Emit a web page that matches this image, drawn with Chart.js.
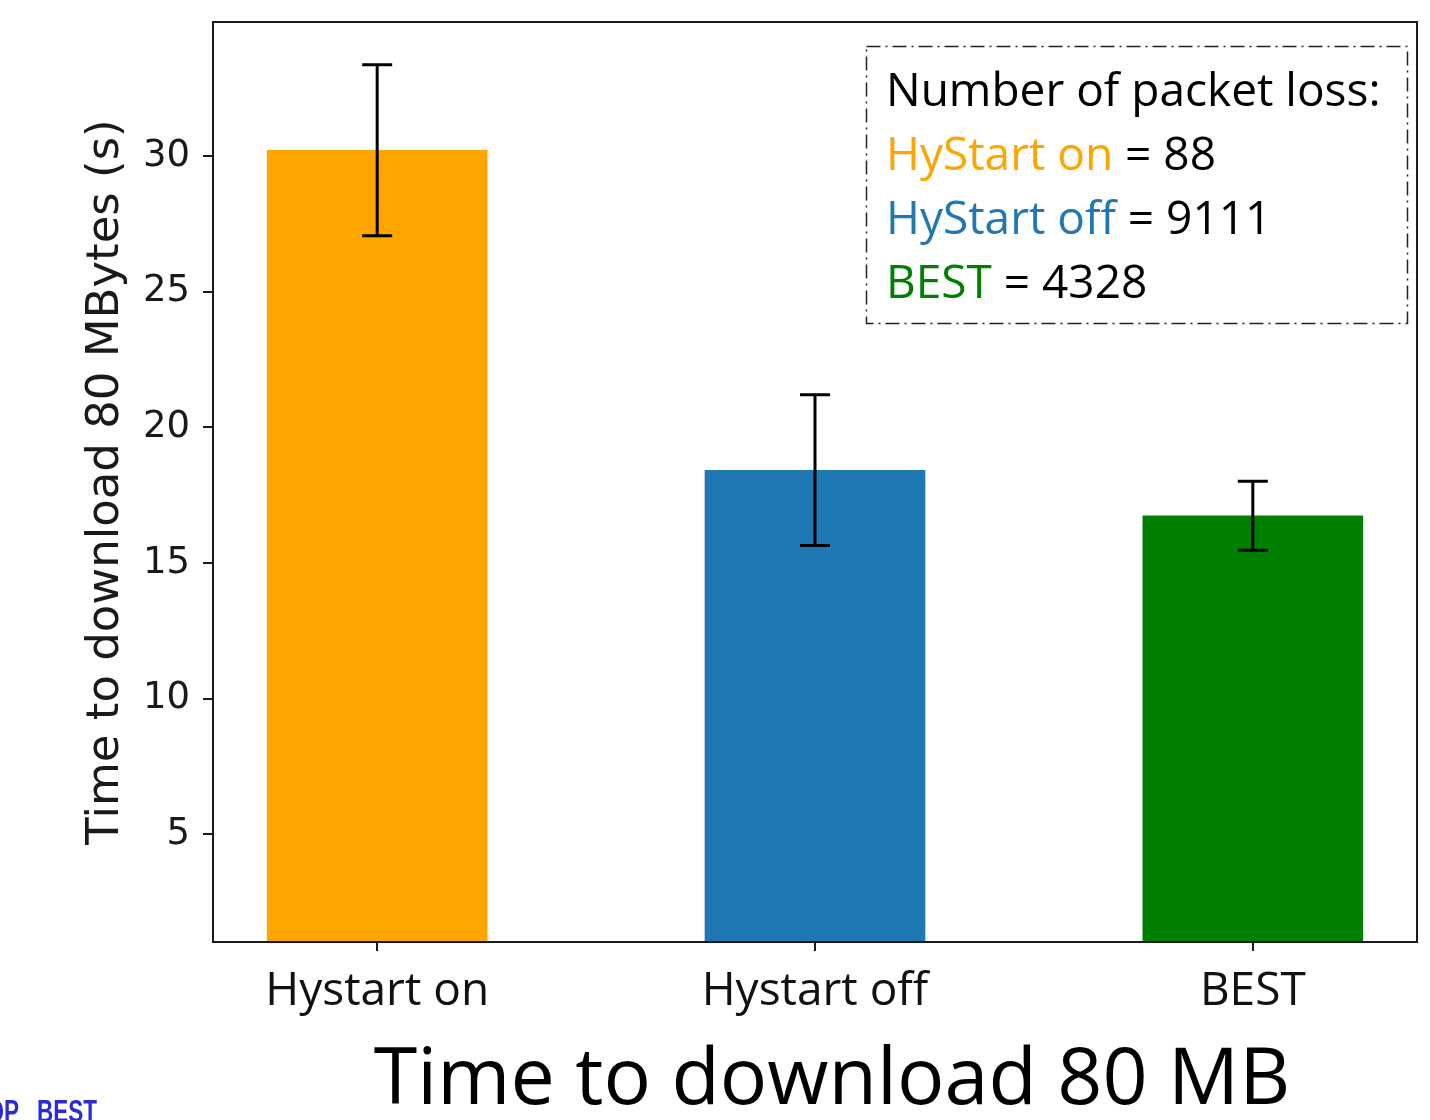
<!DOCTYPE html>
<html>
<head>
<meta charset="utf-8">
<script src="https://cdn.jsdelivr.net/npm/chart.js@4.4.1/dist/chart.umd.min.js"></script>
<style>
  html, body { margin: 0; padding: 0; background: #fff; }
  #wrap { position: relative; width: 1430px; height: 1120px; overflow: hidden; }
  canvas { display: block; }
</style>
</head>
<body>
<div id="wrap"><canvas id="c" width="1430" height="1120"></canvas></div>
<script>
// Download time per configuration (seconds) and its error bar half-width
const categories = ['Hystart on', 'Hystart off', 'BEST'];
const positions = [0, 1, 2];
const meanTime = [30.22, 18.42, 16.74];
const errTime = [3.15, 2.78, 1.27];
const barColors = ['#ffa500', '#1f77b4', '#008000'];
const yTicks = [5, 10, 15, 20, 25, 30];

// Packet-loss counts shown in the note box
const lossLabels = ['HyStart on', 'HyStart off', 'BEST'];
const lossCounts = [88, 9111, 4328];
const noteTitle = 'Number of packet loss:';
const chartTitle = 'Time to download 80 MB';
const yTitle = 'Time to download 80 MBytes (s)';

const slideFont = '"Open Sans", Lato, sans-serif';

// Frame on all four sides of the plot area
const framePlugin = {
  id: 'frame',
  afterDatasetsDraw(chart) {
    const { ctx, chartArea: a } = chart;
    ctx.save();
    ctx.strokeStyle = '#1a1a1a';
    ctx.lineWidth = 2;
    ctx.strokeRect(a.left, a.top, a.right - a.left, a.bottom - a.top);
    ctx.restore();
  }
};

// Symmetric error bars with caps, placed through the chart scales
const errorBarPlugin = {
  id: 'errorBars',
  afterDatasetsDraw(chart) {
    const { ctx, scales: { x, y } } = chart;
    ctx.save();
    ctx.strokeStyle = '#000';
    ctx.lineWidth = 3;
    meanTime.forEach((m, i) => {
      const px = x.getPixelForValue(positions[i]);
      const top = y.getPixelForValue(m + errTime[i]);
      const bot = y.getPixelForValue(m - errTime[i]);
      const cap = 15;
      ctx.beginPath();
      ctx.moveTo(px, top); ctx.lineTo(px, bot);
      ctx.moveTo(px - cap, top); ctx.lineTo(px + cap, top);
      ctx.moveTo(px - cap, bot); ctx.lineTo(px + cap, bot);
      ctx.stroke();
    });
    ctx.restore();
  }
};

// Note box with the loss counts, the caption below the axes, and the footer text
const annotationsPlugin = {
  id: 'annotations',
  afterDraw(chart) {
    const { ctx } = chart;
    ctx.save();
    // dash-dot box
    ctx.strokeStyle = '#222';
    ctx.lineWidth = 1.5;
    ctx.setLineDash([14, 5, 2, 5]);
    ctx.strokeRect(866.5, 46.5, 541, 277);
    ctx.setLineDash([]);

    ctx.font = '46px ' + slideFont;
    ctx.textBaseline = 'alphabetic';
    ctx.textAlign = 'left';
    ctx.fillStyle = '#000';
    ctx.fillText(noteTitle, 886, 106);
    const lineY = [170, 234, 298];
    lossLabels.forEach((lab, i) => {
      ctx.fillStyle = barColors[i];
      ctx.fillText(lab, 886, lineY[i]);
      const w = ctx.measureText(lab).width;
      ctx.fillStyle = '#000';
      ctx.fillText(' = ' + lossCounts[i], 886 + w, lineY[i]);
    });

    // caption under the chart
    ctx.font = '79px ' + slideFont;
    ctx.textAlign = 'center';
    ctx.fillStyle = '#000';
    ctx.fillText(chartTitle, 832, 1104);

    // footer fragment at the lower left, condensed horizontally
    ctx.font = 'bold 31px "Liberation Sans", sans-serif';
    ctx.fillStyle = '#2a2ad8';
    const sx = 60 / ctx.measureText('BEST').width;
    ctx.translate(0, 1122);
    ctx.scale(sx, 1);
    ctx.textAlign = 'right';
    ctx.fillText('OP', 19 / sx, 0);
    ctx.textAlign = 'left';
    ctx.fillText('BEST', 37 / sx, 0);
    ctx.restore();
  }
};

new Chart(document.getElementById('c'), {
  type: 'bar',
  data: {
    datasets: [{
      data: positions.map((p, i) => ({ x: p, y: meanTime[i] })),
      backgroundColor: barColors,
      borderWidth: 0,
      barThickness: 220
    }]
  },
  options: {
    responsive: false,
    animation: false,
    devicePixelRatio: 1,
    layout: { padding: { left: 0, right: 13, top: 22, bottom: 0 } },
    plugins: { legend: { display: false }, tooltip: { enabled: false } },
    scales: {
      x: {
        type: 'linear',
        offset: false,
        min: -0.375,
        max: 2.375,
        afterBuildTicks(scale) { scale.ticks = positions.map(v => ({ value: v })); },
        afterFit(scale) { scale.height = 178; scale.paddingLeft = 0; scale.paddingRight = 0; },
        grid: { display: true, offset: false, drawOnChartArea: false, drawTicks: true, tickLength: 9, color: '#1a1a1a', lineWidth: 2 },
        border: { display: false },
        ticks: {
          color: '#111',
          font: { family: slideFont, size: 46 },
          padding: 13,
          maxRotation: 0,
          autoSkip: false,
          callback: (v) => categories[positions.indexOf(v)]
        }
      },
      y: {
        min: 1.02,
        max: 34.95,
        afterBuildTicks(scale) { scale.ticks = yTicks.map(v => ({ value: v })); },
        afterFit(scale) { scale.width = 213; scale.paddingTop = 0; scale.paddingBottom = 0; },
        grid: { display: true, drawOnChartArea: false, drawTicks: true, tickLength: 10, color: '#1a1a1a', lineWidth: 2 },
        border: { display: false },
        ticks: {
          color: '#1a1a1a',
          font: { family: '"DejaVu Sans"', size: 37 },
          padding: 13
        },
        title: {
          display: true,
          text: yTitle,
          color: '#1a1a1a',
          font: { family: '"DejaVu Sans"', size: 45 },
          padding: { top: 79, bottom: 0 }
        }
      }
    }
  },
  plugins: [framePlugin, errorBarPlugin, annotationsPlugin]
});
</script>
</body>
</html>
